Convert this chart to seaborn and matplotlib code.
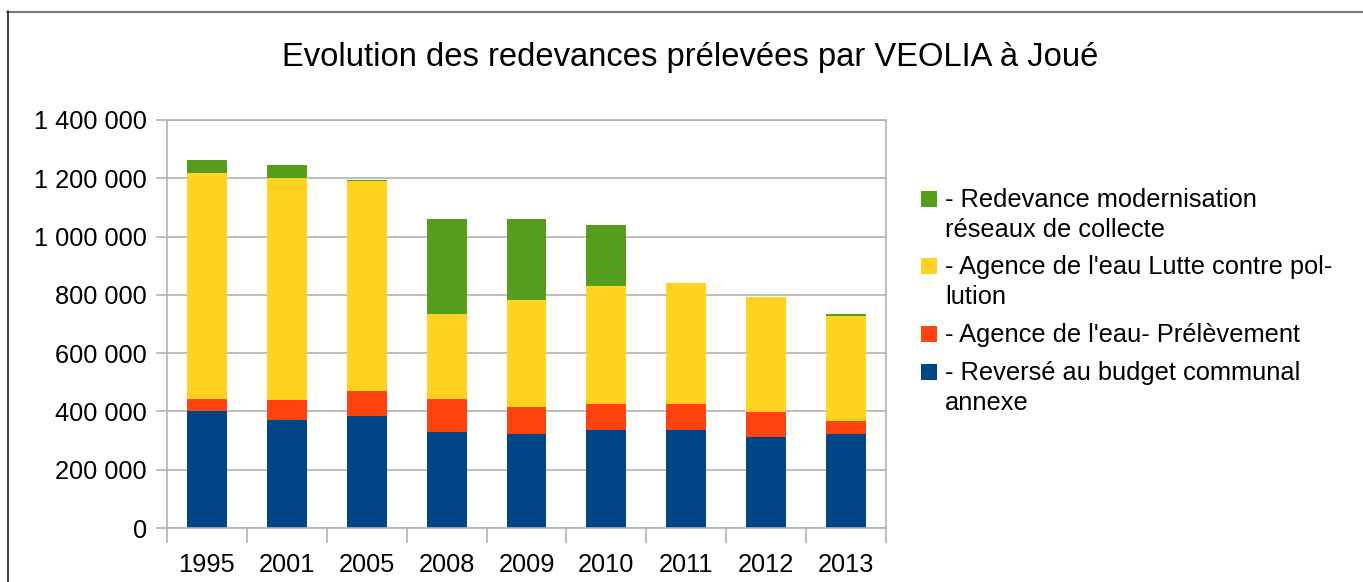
import matplotlib
matplotlib.use("Agg")
import matplotlib.pyplot as plt
from matplotlib.lines import Line2D
from matplotlib.patches import Rectangle
from matplotlib.ticker import FuncFormatter, FixedLocator
import numpy as np
import pandas as pd
import seaborn as sns

# ---- data ----
years = ["1995", "2001", "2005", "2008", "2009", "2010", "2011", "2012", "2013"]
reverse_budget = [400000, 369000, 383000, 328000, 321000, 335000, 335000, 311000, 321000]
prelevement = [41000, 69000, 86000, 113000, 93000, 92000, 89000, 86000, 45000]
lutte_pollution = [778000, 764000, 723000, 295000, 367000, 405000, 415000, 394000, 363000]
modernisation = [45000, 45000, 3000, 326000, 281000, 206000, 0, 3000, 4000]

series_names = [
    "- Reversé au budget communal\nannexe",
    "- Agence de l'eau- Prélèvement",
    "- Agence de l'eau Lutte contre pol-\nlution",
    "- Redevance modernisation\nréseaux de collecte",
]
series_values = [reverse_budget, prelevement, lutte_pollution, modernisation]
colors = ["#004586", "#ff420e", "#ffd320", "#579d1c"]
title = "Evolution des redevances prélevées par VEOLIA à Joué"
yticks = [0, 200000, 400000, 600000, 800000, 1000000, 1200000, 1400000]

# ---- figure ----
sns.set_theme(style="white")
plt.rcParams["font.family"] = ["Liberation Sans", "DejaVu Sans"]

W, H = 1363, 582
fig = plt.figure(figsize=(W / 100, H / 100), dpi=100)
fig.patch.set_facecolor("white")

def fx(px):
    return px / W

def fy(py):
    return 1 - py / H

ax = fig.add_axes([fx(167), fy(528), fx(886) - fx(167), fy(120) - fy(528)])

bottom = np.zeros(len(years))
for name, vals, col in zip(series_names, series_values, colors):
    df = pd.DataFrame({"year": years, "value": vals})
    sns.barplot(data=df, x="year", y="value", color=col, bottom=bottom,
                width=0.5, ax=ax, saturation=1, label=name, errorbar=None,
                linewidth=0, order=years)
    bottom = bottom + np.array(vals)

ax.set_xlim(-0.5, len(years) - 0.5)
ax.set_ylim(0, 1400000)
ax.set_yticks(yticks)
ax.yaxis.set_major_formatter(FuncFormatter(lambda v, p: f"{int(v):,}".replace(",", " ")))
ax.set_xlabel("")
ax.set_ylabel("")
if ax.get_legend() is not None:
    ax.get_legend().remove()

gridc = "#b3b3b3"
ax.yaxis.grid(True, color=gridc, linewidth=1.2)
ax.xaxis.grid(False)
ax.set_axisbelow(True)
for s in ax.spines.values():
    s.set_color(gridc)
    s.set_linewidth(1.2)
    s.set_visible(True)

ax.tick_params(axis="y", which="major", length=8, width=1.2, color=gridc,
               pad=6.5, labelsize=18.3, labelcolor="black", left=True)
ax.tick_params(axis="x", which="major", length=0, pad=18, labelsize=18.3,
               labelcolor="black")
ax.xaxis.set_minor_locator(FixedLocator(np.arange(-0.5, len(years), 1.0)))
ax.tick_params(axis="x", which="minor", length=11, width=1.2, color=gridc,
               bottom=True)

# title
fig.text(fx(690), fy(66), title, ha="center", va="baseline", fontsize=23.6,
         color="black")

# legend (drawn to match the reference layout: square aligned to first line)
legend_order = [3, 2, 1, 0]
entry_y = [199, 266, 334, 372]
for idx, yc in zip(legend_order, entry_y):
    fig.add_artist(Rectangle((fx(921), fy(yc + 8)), fx(16), 16 / H,
                             facecolor=colors[idx], edgecolor="none",
                             transform=fig.transFigure))
    for i, line in enumerate(series_names[idx].split("\n")):
        fig.text(fx(945), fy(yc + 8 + 30 * i), line, ha="left", va="baseline",
                 fontsize=18.3, color="black")

# outer frame (cropped)
fig.add_artist(Line2D([fx(7), 1.0], [fy(11.5), fy(11.5)], color="#777777",
                      linewidth=1.5, transform=fig.transFigure))
fig.add_artist(Line2D([fx(7.5), fx(7.5)], [fy(11), 0.0], color="#222222",
                      linewidth=1.2, transform=fig.transFigure))

fig.savefig("out.png", dpi=100, facecolor="white")
